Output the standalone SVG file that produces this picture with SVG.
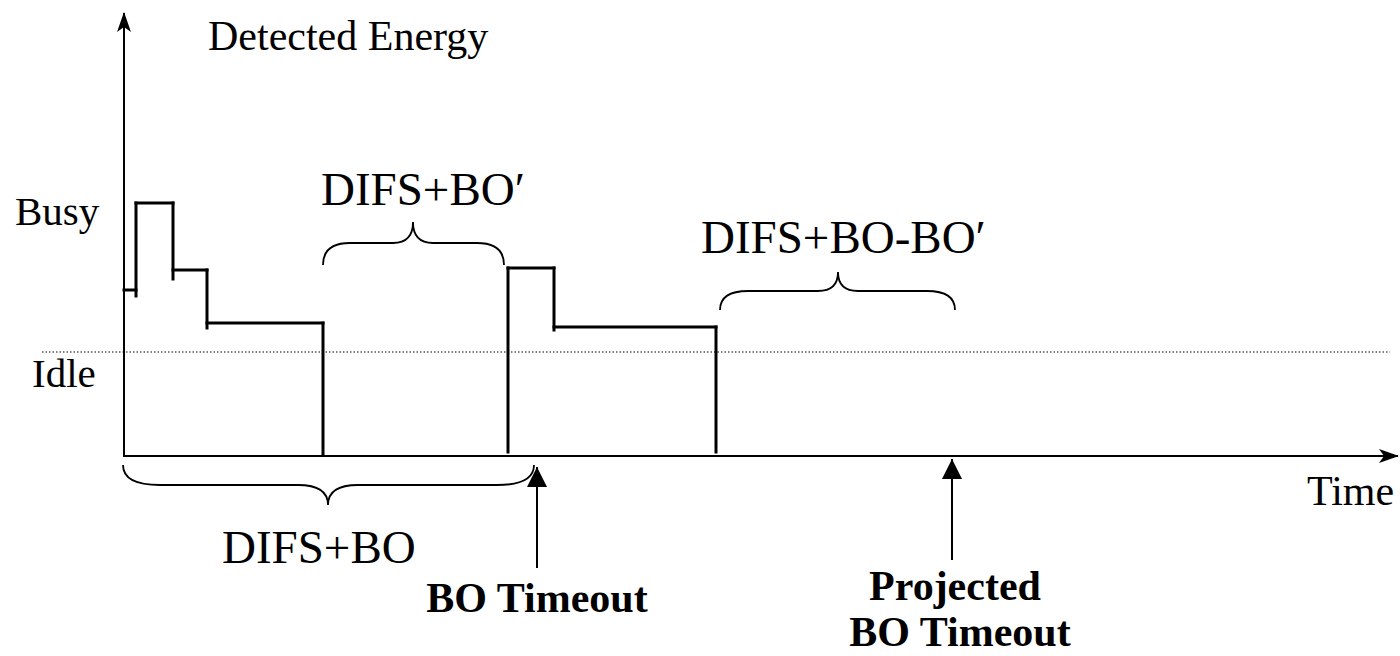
<svg xmlns="http://www.w3.org/2000/svg" width="1400" height="656" viewBox="0 0 1400 656">
<style>
.t{font-family:"Liberation Serif","Times New Roman",serif;fill:#000}
.b{font-weight:bold}
.ax{stroke:#000;stroke-width:2;fill:none}
.w{stroke:#000;stroke-width:3;fill:none;stroke-linecap:square}
.br{stroke:#000;stroke-width:1.8;fill:none}
</style>
<defs>
<marker id="open" viewBox="0 0 20 16" refX="19" refY="8" markerWidth="20" markerHeight="16" markerUnits="userSpaceOnUse" orient="auto">
<path d="M0,1 L20,8 L0,15 L5,8 Z" fill="#000"/>
</marker>
<marker id="tri" viewBox="0 0 20 20" refX="20" refY="10" markerWidth="20" markerHeight="20" markerUnits="userSpaceOnUse" orient="auto">
<path d="M0,0 L20,10 L0,20 Z" fill="#000"/>
</marker>
</defs>
<rect width="1400" height="656" fill="#fff"/>
<g id="axes">
<line class="ax" x1="124" y1="457" x2="124" y2="13" marker-end="url(#open)"/>
<line class="ax" x1="123" y1="456" x2="1398" y2="456" marker-end="url(#open)"/>
<line x1="42" y1="352" x2="1390" y2="352" stroke="#000" stroke-width="1.2" stroke-dasharray="1.5 2"/>
</g>
<g id="waveform">
<line class="w" x1="124" y1="290" x2="136" y2="290"/>
<line class="w" x1="136" y1="296" x2="136" y2="203"/>
<line class="w" x1="136" y1="203" x2="173" y2="203"/>
<line class="w" x1="173" y1="203" x2="173" y2="279"/>
<line class="w" x1="173" y1="270" x2="207" y2="270"/>
<line class="w" x1="207" y1="270" x2="207" y2="328"/>
<line class="w" x1="207" y1="323" x2="323" y2="323"/>
<line class="w" x1="323" y1="323" x2="323" y2="455"/>
<line class="w" x1="508" y1="452" x2="508" y2="268"/>
<line class="w" x1="508" y1="268" x2="554" y2="268"/>
<line class="w" x1="554" y1="268" x2="554" y2="330"/>
<line class="w" x1="554" y1="327" x2="716" y2="327"/>
<line class="w" x1="716" y1="327" x2="716" y2="452"/>
</g>
<g id="braces">
<path class="br" d="M323,265 Q323,243 350,243 L393,243 Q413,243 413,222 Q413,243 433,243 L477,243 Q504,243 504,265"/>
<path class="br" d="M720,310 Q720,291 748,291 L818,291 Q838,291 838,272 Q838,291 858,291 L927,291 Q955,291 955,310"/>
<path class="br" d="M123,465 Q123,485 160,485 L298,485 Q328,485 328,505 Q328,485 358,485 L497,485 Q534,485 534,465"/>
</g>
<g id="connectors">
<line class="ax" x1="537" y1="568" x2="537" y2="467" marker-end="url(#tri)"/>
<line class="ax" x1="952" y1="560" x2="952" y2="459" marker-end="url(#tri)"/>
</g>
<g id="labels">
<text class="t" x="208" y="50" font-size="42">Detected Energy</text>
<text class="t" x="15" y="225" font-size="41">Busy</text>
<text class="t" x="32" y="387" font-size="41">Idle</text>
<text class="t" x="1307" y="505" font-size="42">Time</text>
<text class="t" x="321" y="205" font-size="47">DIFS+BO′</text>
<text class="t" x="701" y="253" font-size="47">DIFS+BO-BO′</text>
<text class="t" x="222" y="563" font-size="47">DIFS+BO</text>
<text class="t b" x="537" y="612" font-size="42" text-anchor="middle">BO Timeout</text>
<text class="t b" x="955" y="600" font-size="42" text-anchor="middle">Projected</text>
<text class="t b" x="960" y="646" font-size="42" text-anchor="middle">BO Timeout</text>
</g>
</svg>
